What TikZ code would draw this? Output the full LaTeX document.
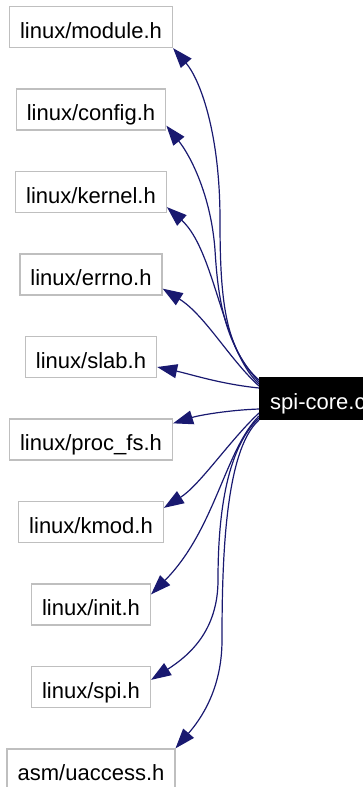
\documentclass[tikz,border=0pt]{standalone}
\usepackage{fontspec}
\setmainfont{Liberation Sans}
\usepackage{tikz}
\usetikzlibrary{arrows.meta, positioning}

\definecolor{edgeblue}{HTML}{191970}
\definecolor{boxgray}{HTML}{BFBFBF}

\begin{document}
\begin{tikzpicture}[
  x=1pt, y=-1pt,
  >={Triangle[length=20pt, width=14pt]},
  hdr/.style  = {draw=boxgray, line width=1.3pt, fill=white, rectangle,
                 font=\fontsize{22}{26}\selectfont, text height=22pt, text depth=0pt,
                 inner xsep=10.5pt, inner ysep=9.5pt},
  src/.style  = {hdr, draw=black, fill=black, text=white},
  dep/.style  = {->, draw=edgeblue, line width=1.2pt},
  node distance=40.2pt,
]
  \useasboundingbox (0,0) rectangle (363,787);

  % included headers
  \node[hdr]                        (module)  at (91,27) {linux/module.h};
  \node[hdr, below=of module]       (config)  {linux/config.h};
  \node[hdr, below=of config]       (kernel)  {linux/kernel.h};
  \node[hdr, below=of kernel]       (errno)   {linux/errno.h};
  \node[hdr, below=of errno]        (slab)    {linux/slab.h};
  \node[hdr, below=of slab]         (procfs)  {linux/proc\_fs.h};
  \node[hdr, below=of procfs]       (kmod)    {linux/kmod.h};
  \node[hdr, below=of kmod]         (init)    {linux/init.h};
  \node[hdr, below=of init]         (spih)    {linux/spi.h};
  \node[hdr, below=of spih]         (uaccess) {asm/uaccess.h};

  % the source file
  \node[src, anchor=west] (core) at (259,398.5) {spi-core.c};

  \draw[dep] ([yshift=18.5pt]core.west) .. controls (225,350) and (220,300) .. (220,220)
             .. controls (220,130) and (199,78) .. (module.south east);
  \draw[dep] ([yshift=16.5pt]core.west) .. controls (225,345) and (218,300) .. (215,250)
             .. controls (211,195) and (190,155) .. ([yshift=5pt]config.south east);
  \draw[dep] ([yshift=14.5pt]core.west) .. controls (222,350) and (215,250) .. ([yshift=6pt]kernel.south east);
  \draw[dep] ([yshift=12.5pt]core.west) .. controls (230,360) and (205,315) .. ([yshift=7pt]errno.south east);
  \draw[dep] ([yshift=10.5pt]core.west) .. controls (220,384) and (190,374) .. ([yshift=-10pt]slab.east);
  \draw[dep] ([yshift=-10.5pt]core.west) .. controls (230,410) and (200,415) .. ([yshift=-5pt]procfs.north east);
  \draw[dep] ([yshift=-14.5pt]core.west) .. controls (230,440) and (200,485) .. ([yshift=-7pt]kmod.north east);
  \draw[dep] ([yshift=-17.5pt]core.west) .. controls (225,450) and (215,530) .. ([yshift=-11pt]init.north east);
  \draw[dep] ([yshift=-19.5pt]core.west) .. controls (225,450) and (218,520) .. (218,580)
             .. controls (218,630) and (190,655) .. ([yshift=-14pt]spih.north east);
  \draw[dep] ([yshift=-21.5pt]core.west) .. controls (225,450) and (222,560) .. (222,640)
             .. controls (222,690) and (200,720) .. (uaccess.north east);
\end{tikzpicture}
\end{document}
